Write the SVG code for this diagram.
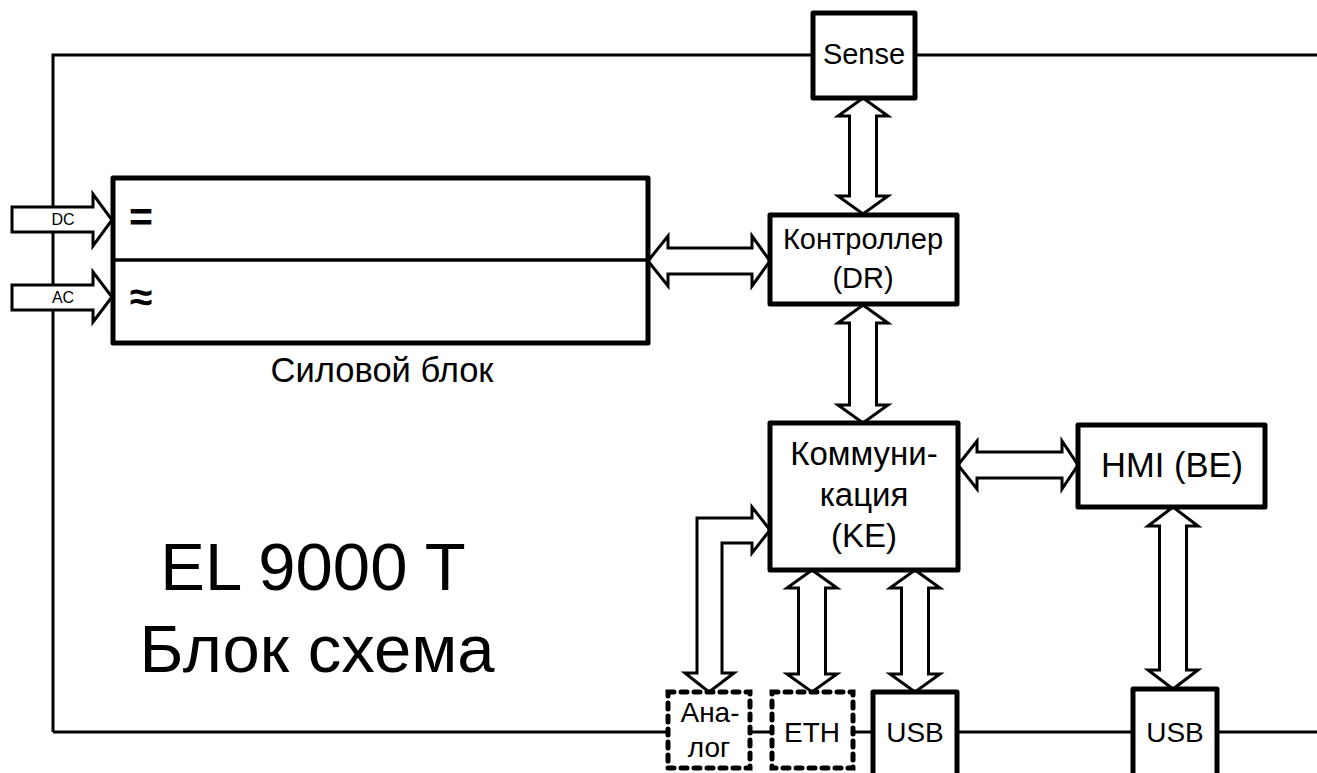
<svg xmlns="http://www.w3.org/2000/svg" width="1317" height="773" viewBox="0 0 1317 773">
<style>
.box{fill:#fff;stroke:#000;stroke-width:5;stroke-linejoin:round}
.dash{fill:#fff;stroke:#000;stroke-width:5;stroke-dasharray:6 7;stroke-linecap:round}
.wire{fill:none;stroke:#000;stroke-width:3}
.arr{fill:#fff;stroke:#000;stroke-width:3;stroke-linejoin:miter}
text{font-family:"Liberation Sans",Arial,sans-serif;fill:#000;text-anchor:middle}
.t28{font-size:28px}
</style>
<rect width="1317" height="773" fill="#fff"/>
<g id="connectors">
<path class="wire" d="M53,732 V55 H813 M915,55 H1317 M53,732 H668 M750,732 H772 M853,732 H873 M957,732 H1133 M1217,732 H1317"/>
<polygon class="arr" points="12,207 93,207 93,194 112,220 93,246 93,232 12,232"/>
<polygon class="arr" points="12,285 93,285 93,272 112,297 93,322 93,310 12,310"/>
<polygon class="arr" points="863,98 888,116 876.5,116 876.5,196 888,196 863,214 838,196 849.5,196 849.5,116 838,116"/>
<polygon class="arr" points="863,305 888,323 876.5,323 876.5,405 888,405 863,423 838,405 849.5,405 849.5,323 838,323"/>
<polygon class="arr" points="648,261 668,236 668,248 752,248 752,236 770,261 752,286 752,274 668,274 668,286"/>
<polygon class="arr" points="958,465 977,441 977,452 1062,452 1062,441 1078,465 1062,489 1062,478 977,478 977,489"/>
<polygon class="arr" points="812,570 837,588 825.5,588 825.5,674 837,674 812,692 787,674 798.5,674 798.5,588 787,588"/>
<polygon class="arr" points="915,570 940,588 928.5,588 928.5,674 940,674 915,692 890,674 901.5,674 901.5,588 890,588"/>
<polygon class="arr" points="1173,507 1198,526 1186.5,526 1186.5,670 1198,670 1173,689 1148,670 1159.5,670 1159.5,526 1148,526"/>
<polygon class="arr" points="770,530 752,507 752,518 697,518 697,673 685,673 709,692 734,673 722,673 722,543 752,543 752,553"/>
</g>
<g id="power">
<rect class="box" x="113" y="178" width="535" height="165"/>
<line x1="113" y1="260" x2="648" y2="260" stroke="#000" stroke-width="3.5"/>
<text x="141" y="231" style="font-size:41px;font-weight:bold">=</text>
<text x="141" y="311" style="font-size:41px;font-weight:bold">≈</text>
<text x="382" y="382" style="font-size:34.5px">Силовой блок</text>
</g>
<g id="dc"><text x="63" y="225" style="font-size:16px">DC</text></g>
<g id="ac"><text x="63" y="303" style="font-size:16px">AC</text></g>
<g id="sense">
<rect class="box" x="813" y="13" width="102" height="85"/>
<text x="864" y="64" style="font-size:29px">Sense</text>
</g>
<g id="controller">
<rect class="box" x="770" y="215" width="187" height="89"/>
<text x="863" y="249" style="font-size:29px">Контроллер</text>
<text x="863" y="288" style="font-size:29px">(DR)</text>
</g>
<g id="ke">
<rect class="box" x="770" y="423" width="188" height="147"/>
<text x="864" y="465" style="font-size:33px">Коммуни-</text>
<text x="864" y="506" style="font-size:33px">кация</text>
<text x="864" y="547" style="font-size:33px">(KE)</text>
</g>
<g id="hmi">
<rect class="box" x="1078" y="425" width="187" height="82"/>
<text x="1172" y="477" style="font-size:34.5px">HMI (BE)</text>
</g>
<g id="analog">
<rect class="dash" x="668" y="692" width="82" height="76"/>
<text x="710" y="722" style="font-size:28px">Ана-</text>
<text x="709" y="757" style="font-size:28px">лог</text>
</g>
<g id="eth">
<rect class="dash" x="772" y="692" width="81" height="76"/>
<text class="t28" x="812" y="742">ETH</text>
</g>
<g id="usb1">
<rect class="box" x="873" y="692" width="84" height="86"/>
<text class="t28" x="915" y="742">USB</text>
</g>
<g id="usb2">
<rect class="box" x="1133" y="689" width="84" height="89"/>
<text class="t28" x="1175" y="742">USB</text>
</g>
<g id="title">
<text x="313" y="590" style="font-size:67px">EL 9000 T</text>
<text x="317" y="672" style="font-size:67px">Блок схема</text>
</g>
</svg>
